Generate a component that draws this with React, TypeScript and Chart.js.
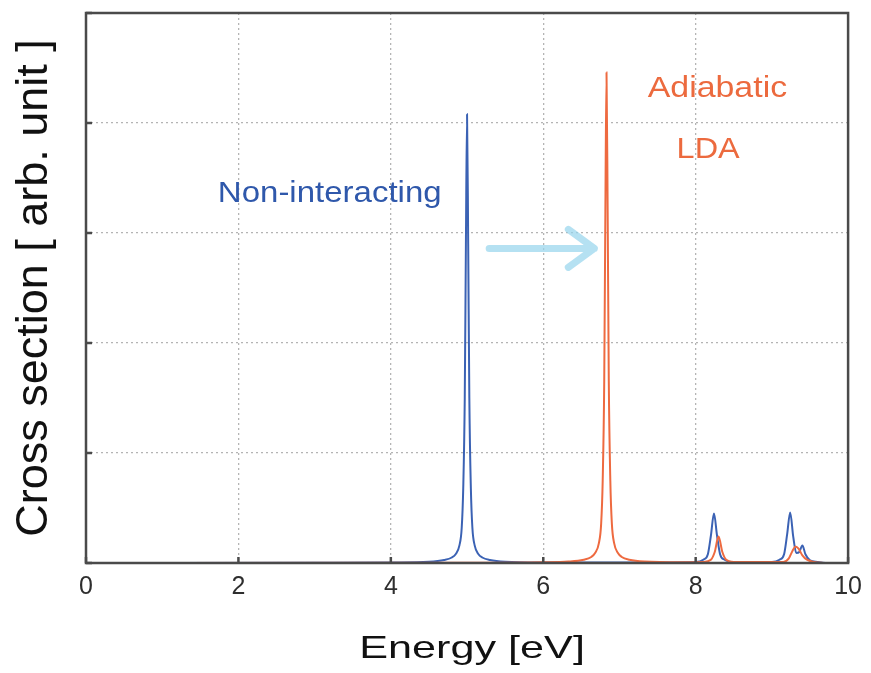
import React, { useEffect, useRef } from "react";
import { Chart, registerables } from "chart.js";

Chart.register(...registerables);

// Non-interacting spectrum (energy in eV, cross section in arb. unit)
const blueEnergy = [0, 3, 4.0, 4.5, 4.7, 4.8, 4.85, 4.9, 4.93, 4.95, 4.97, 4.985, 5.0, 5.015, 5.03, 5.05, 5.07, 5.1, 5.15, 5.2, 5.3, 5.5, 6.0, 7.0, 8.0, 8.1, 8.16, 8.2, 8.24, 8.28, 8.32, 8.38, 8.5, 9.0, 9.1, 9.16, 9.2, 9.24, 9.28, 9.32, 9.36, 9.4, 9.44, 9.5, 9.6, 9.7];
const blueSigma = [0, 0.002, 0.005, 0.012, 0.028, 0.05, 0.08, 0.16, 0.32, 0.68, 1.5, 2.9, 4.08, 2.9, 1.5, 0.68, 0.32, 0.16, 0.08, 0.05, 0.028, 0.012, 0.005, 0.004, 0.01, 0.03, 0.08, 0.25, 0.45, 0.25, 0.08, 0.03, 0.01, 0.01, 0.03, 0.08, 0.26, 0.46, 0.24, 0.09, 0.1, 0.16, 0.08, 0.025, 0.01, 0.0];

// Adiabatic LDA spectrum
const redEnergy = [0, 5.0, 6.0, 6.33, 6.53, 6.63, 6.68, 6.73, 6.76, 6.78, 6.8, 6.815, 6.83, 6.845, 6.86, 6.88, 6.9, 6.93, 6.98, 7.03, 7.13, 7.33, 7.8, 8.1, 8.2, 8.25, 8.3, 8.35, 8.4, 8.5, 9.15, 9.22, 9.27, 9.31, 9.35, 9.4, 9.46, 9.55, 9.7];
const redSigma = [0, 0.002, 0.006, 0.013, 0.03, 0.055, 0.09, 0.18, 0.36, 0.75, 1.65, 3.2, 4.46, 3.2, 1.65, 0.75, 0.36, 0.18, 0.09, 0.055, 0.03, 0.013, 0.006, 0.01, 0.03, 0.1, 0.24, 0.1, 0.03, 0.01, 0.01, 0.04, 0.11, 0.15, 0.13, 0.07, 0.03, 0.01, 0.0];

const xTicks = [0, 2, 4, 6, 8, 10];
const yTicks = [0, 1, 2, 3, 4, 5];

const labelNonInteracting = "Non-interacting";
const labelAdiabatic = "Adiabatic";
const labelLDA = "LDA";
const xTitle = "Energy [eV]";
const yTitle = "Cross section [ arb. unit ]";

// annotation anchors in data units
const nonIntPos = { x: 1.73, y: 3.28 };
const adiabaticPos = { x: 7.37, y: 4.24 };
const ldaPos = { x: 7.75, y: 3.68 };
const arrowFrom = { x: 5.29, y: 2.86 };
const arrowTo = { x: 6.67, y: 2.86 };

const BLUE = "#3b62b4";
const RED = "#ee6a40";
const BLUE_TEXT = "#2f58ab";
const RED_TEXT = "#ec6a3e";
const ARROW = "rgba(150, 212, 236, 0.7)";
const FONT = '"Liberation Sans", Arial, Helvetica, sans-serif';

function drawStretched(ctx: CanvasRenderingContext2D, text: string, x: number, y: number, size: number, sx: number, color: string, align: CanvasTextAlign) {
  ctx.save();
  ctx.font = `${size}px ${FONT}`;
  ctx.fillStyle = color;
  ctx.textBaseline = "alphabetic";
  ctx.textAlign = align;
  ctx.translate(x, y);
  ctx.scale(sx, 1);
  ctx.fillText(text, 0, 0);
  ctx.restore();
}

const framePlugin = {
  id: "frameAndNotes",
  afterDatasetsDraw(chart: any) {
    const { ctx, chartArea, scales } = chart;
    const xs = scales.x;
    const ys = scales.y;
    ctx.save();
    // inner tick marks
    ctx.strokeStyle = "#4a4a4a";
    ctx.lineWidth = 2.5;
    xTicks.forEach((v) => {
      const px = xs.getPixelForValue(v);
      ctx.beginPath();
      ctx.moveTo(px, chartArea.bottom);
      ctx.lineTo(px, chartArea.bottom - 6);
      ctx.stroke();
    });
    yTicks.forEach((v) => {
      const py = ys.getPixelForValue(v);
      ctx.beginPath();
      ctx.moveTo(chartArea.left, py);
      ctx.lineTo(chartArea.left + 6, py);
      ctx.stroke();
    });
    // frame
    ctx.strokeRect(chartArea.left, chartArea.top, chartArea.right - chartArea.left, chartArea.bottom - chartArea.top);

    // arrow
    const ax0 = xs.getPixelForValue(arrowFrom.x);
    const ay0 = ys.getPixelForValue(arrowFrom.y);
    const ax1 = xs.getPixelForValue(arrowTo.x);
    const ay1 = ys.getPixelForValue(arrowTo.y);
    ctx.strokeStyle = ARROW;
    ctx.lineWidth = 7;
    ctx.lineCap = "round";
    ctx.lineJoin = "round";
    ctx.beginPath();
    ctx.moveTo(ax0, ay0);
    ctx.lineTo(ax1, ay1);
    ctx.moveTo(ax1 - 26, ay1 - 19);
    ctx.lineTo(ax1, ay1);
    ctx.lineTo(ax1 - 26, ay1 + 19);
    ctx.stroke();
    ctx.restore();

    // text annotations
    drawStretched(ctx, labelNonInteracting, xs.getPixelForValue(nonIntPos.x), ys.getPixelForValue(nonIntPos.y), 30, 1.1, BLUE_TEXT, "left");
    drawStretched(ctx, labelAdiabatic, xs.getPixelForValue(adiabaticPos.x), ys.getPixelForValue(adiabaticPos.y), 30, 1.13, RED_TEXT, "left");
    drawStretched(ctx, labelLDA, xs.getPixelForValue(ldaPos.x), ys.getPixelForValue(ldaPos.y), 30, 1.08, RED_TEXT, "left");

    // x axis title
    const cx = (chartArea.left + chartArea.right) / 2 + 5;
    drawStretched(ctx, xTitle, cx, chart.height - 15, 32, 1.35, "#111111", "center");
  },
};

export default function App() {
  const canvasRef = useRef<HTMLCanvasElement | null>(null);

  useEffect(() => {
    document.body.style.margin = "0";
    const canvas = canvasRef.current;
    if (!canvas) return;
    const chart = new Chart(canvas, {
      type: "line",
      data: {
        datasets: [
          {
            label: labelAdiabatic + " " + labelLDA,
            data: redEnergy.map((e, i) => ({ x: e, y: redSigma[i] })),
            borderColor: RED,
            borderWidth: 2,
            pointRadius: 0,
            fill: false,
            cubicInterpolationMode: "monotone",
          },
          {
            label: labelNonInteracting,
            data: blueEnergy.map((e, i) => ({ x: e, y: blueSigma[i] })),
            borderColor: BLUE,
            borderWidth: 2,
            pointRadius: 0,
            fill: false,
            cubicInterpolationMode: "monotone",
          },
        ],
      },
      options: {
        animation: false,
        responsive: true,
        maintainAspectRatio: false,
        layout: { padding: { top: 13, right: 22, left: 0, bottom: 0 } },
        plugins: {
          legend: { display: false },
          tooltip: { enabled: false },
          title: { display: false },
        },
        scales: {
          x: {
            type: "linear",
            min: 0,
            max: 10,
            afterBuildTicks: (scale: any) => {
              scale.ticks = xTicks.map((v) => ({ value: v }));
            },
            afterFit: (scale: any) => {
              scale.height = 110;
            },
            ticks: {
              padding: 9,
              color: "#2e2e2e",
              font: { family: '"Liberation Sans Narrow", ' + FONT, size: 25 },
              maxRotation: 0,
            },
            grid: { color: "#b4b4b4", lineWidth: 1.3, drawTicks: false },
            border: { display: false, dash: [2, 3] },
          },
          y: {
            type: "linear",
            min: 0,
            max: 5,
            afterBuildTicks: (scale: any) => {
              scale.ticks = yTicks.map((v) => ({ value: v }));
            },
            afterFit: (scale: any) => {
              scale.width = 86;
            },
            ticks: { display: false },
            grid: { color: "#b4b4b4", lineWidth: 1.3, drawTicks: false },
            border: { display: false, dash: [2, 3] },
            title: {
              display: true,
              text: yTitle,
              color: "#111111",
              font: { family: FONT, size: 45 },
              padding: { top: 8, bottom: 0 },
            },
          },
        },
      },
      plugins: [framePlugin],
    });
    return () => chart.destroy();
  }, []);

  return (
    <div style={{ position: "relative", width: 871, height: 673 }}>
      <canvas ref={canvasRef} />
    </div>
  );
}
